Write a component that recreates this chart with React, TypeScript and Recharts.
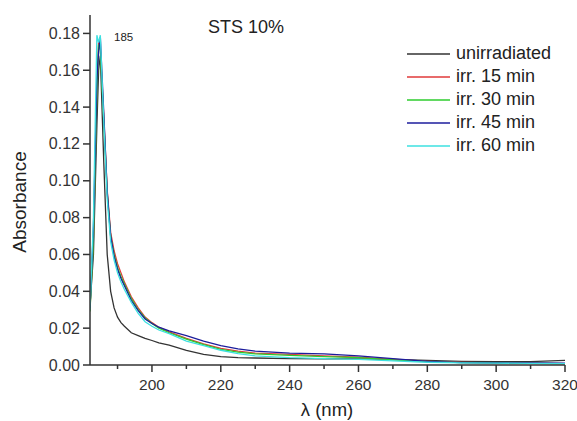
import React from 'react';
import { LineChart, Line, XAxis, YAxis } from 'recharts';

const wavelengths = [182, 183, 184, 184.5, 185, 186, 187, 188, 189, 190, 191, 192, 194, 196, 198, 200, 202, 205, 210, 215, 220, 225, 230, 240, 250, 260, 270, 280, 290, 300, 310, 320];

const unirradiated = [0.032, 0.06, 0.13, 0.16, 0.168, 0.11, 0.06, 0.04, 0.031, 0.026, 0.023, 0.021, 0.0175, 0.016, 0.0145, 0.0133, 0.012, 0.0108, 0.008, 0.0058, 0.0045, 0.004, 0.0038, 0.0035, 0.0034, 0.0033, 0.003, 0.0025, 0.002, 0.0018, 0.0018, 0.0025];
const irr15 = [0.03, 0.07, 0.15, 0.176, 0.172, 0.135, 0.095, 0.072, 0.062, 0.055, 0.05, 0.045, 0.037, 0.031, 0.026, 0.023, 0.0205, 0.018, 0.0145, 0.0115, 0.009, 0.0075, 0.0065, 0.0058, 0.005, 0.0042, 0.003, 0.002, 0.0014, 0.0012, 0.001, 0.0008];
const irr30 = [0.029, 0.068, 0.148, 0.174, 0.171, 0.133, 0.093, 0.07, 0.06, 0.053, 0.048, 0.044, 0.036, 0.03, 0.0255, 0.0225, 0.02, 0.0175, 0.014, 0.011, 0.0085, 0.007, 0.006, 0.0052, 0.0046, 0.004, 0.0028, 0.0018, 0.0013, 0.0011, 0.0009, 0.0008];
const irr45 = [0.031, 0.075, 0.155, 0.17, 0.178, 0.137, 0.094, 0.07, 0.059, 0.052, 0.047, 0.043, 0.035, 0.0295, 0.025, 0.0225, 0.0205, 0.0185, 0.016, 0.013, 0.0105, 0.0088, 0.0075, 0.0065, 0.006, 0.005, 0.0035, 0.002, 0.0013, 0.0012, 0.0012, 0.001];
const irr60 = [0.03, 0.08, 0.179, 0.175, 0.179, 0.132, 0.09, 0.067, 0.057, 0.05, 0.045, 0.041, 0.034, 0.028, 0.0235, 0.021, 0.019, 0.017, 0.013, 0.0105, 0.008, 0.0062, 0.005, 0.004, 0.0035, 0.003, 0.0022, 0.0015, 0.0012, 0.001, 0.0009, 0.0008];

const yTicks = [0, 0.01, 0.02, 0.03, 0.04, 0.05, 0.06, 0.07, 0.08, 0.09, 0.1, 0.11, 0.12, 0.13, 0.14, 0.15, 0.16, 0.17, 0.18];
const xTicks = [190, 200, 210, 220, 230, 240, 250, 260, 270, 280, 290, 300, 310, 320];

const series = [
  { key: 'unirradiated', name: 'unirradiated', color: '#333333', values: unirradiated },
  { key: 'irr15', name: 'irr. 15 min', color: '#e03a3a', values: irr15 },
  { key: 'irr30', name: 'irr. 30 min', color: '#2ecc2e', values: irr30 },
  { key: 'irr45', name: 'irr. 45 min', color: '#1c1c9c', values: irr45 },
  { key: 'irr60', name: 'irr. 60 min', color: '#3de0e0', values: irr60 },
];

const data = wavelengths.map((w, i) => {
  const row: Record<string, number> = { wl: w };
  series.forEach((s) => {
    row[s.key] = s.values[i];
  });
  return row;
});

const font = 'Liberation Sans, Arial, sans-serif';

const YTick = (props: any) => {
  const { x, y, payload } = props;
  const v = payload.value;
  const major = Math.round(v * 100) % 2 === 0;
  return (
    <g>
      <line x1={x - (major ? 7 : 4)} y1={y} x2={x} y2={y} stroke="#333" strokeWidth={1.5} />
      {major && (
        <text x={x - 10} y={y} dy={5.5} textAnchor="end" fontSize={16} fill="#333" fontFamily={font}>
          {v.toFixed(2)}
        </text>
      )}
    </g>
  );
};

const XTick = (props: any) => {
  const { x, y, payload } = props;
  const v = payload.value;
  const major = v % 20 === 0;
  return (
    <g>
      <line x1={x} y1={y} x2={x} y2={y + (major ? 7 : 4)} stroke="#333" strokeWidth={1.5} />
      {major && (
        <text x={x} y={y + 25} textAnchor="middle" fontSize={15.5} fill="#333" fontFamily={font}>
          {v}
        </text>
      )}
    </g>
  );
};

export default function App() {
  return (
    <div style={{ position: 'absolute', left: 0, top: 0, width: 577, height: 421, background: '#fff' }}>
      <LineChart width={577} height={421} data={data} margin={{ top: 15, right: 12, bottom: 0, left: 0 }}>
        <XAxis
          dataKey="wl"
          type="number"
          domain={[182, 320]}
          ticks={xTicks}
          allowDataOverflow
          height={56}
          tickSize={0}
          tickMargin={0}
          tickLine={false}
          tick={<XTick />}
          axisLine={{ stroke: '#333', strokeWidth: 1.5 }}
        />
        <YAxis
          type="number"
          domain={[0, 0.19]}
          ticks={yTicks}
          allowDataOverflow
          width={90}
          tickSize={0}
          tickMargin={0}
          tickLine={false}
          tick={<YTick />}
          axisLine={{ stroke: '#333', strokeWidth: 1.5 }}
        />
        {series.map((s) => (
          <Line
            key={s.key}
            dataKey={s.key}
            name={s.name}
            stroke={s.color}
            strokeWidth={1.3}
            dot={false}
            type="linear"
            isAnimationActive={false}
          />
        ))}
      </LineChart>
      <div style={{ position: 'absolute', left: 208, top: 17, fontFamily: font, fontSize: 18, color: '#222', whiteSpace: 'nowrap' }}>STS 10%</div>
      <div style={{ position: 'absolute', left: 114, top: 31, fontFamily: font, fontSize: 11.5, color: '#222' }}>185</div>
      <div
        style={{
          position: 'absolute',
          left: 20,
          top: 202,
          transform: 'translate(-50%, -50%) rotate(-90deg)',
          fontFamily: font,
          fontSize: 19,
          color: '#222',
          whiteSpace: 'nowrap',
        }}
      >
        Absorbance
      </div>
      <div style={{ position: 'absolute', left: 327, top: 399, transform: 'translateX(-50%)', fontFamily: font, fontSize: 18.5, color: '#222', whiteSpace: 'nowrap' }}>
        λ (nm)
      </div>
      <div style={{ position: 'absolute', left: 407, top: 42, fontFamily: font, fontSize: 18, color: '#222' }}>
        {series.map((s) => (
          <div key={s.key} style={{ display: 'flex', alignItems: 'center', height: 23, whiteSpace: 'nowrap' }}>
            <svg width={43} height={4} style={{ marginRight: 6 }}>
              <line x1={0} y1={2} x2={43} y2={2} stroke={s.color} strokeWidth={1.5} />
            </svg>
            <span>{s.name}</span>
          </div>
        ))}
      </div>
    </div>
  );
}
